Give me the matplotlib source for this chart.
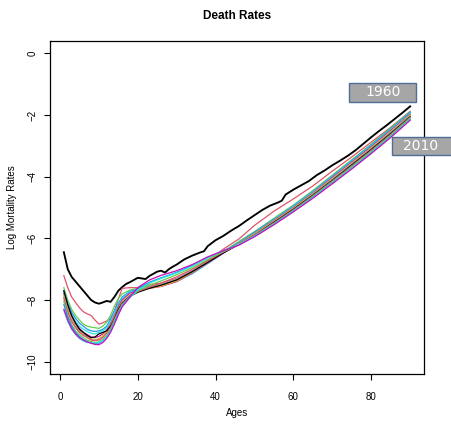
import matplotlib
matplotlib.use("Agg")
import matplotlib.pyplot as plt
from matplotlib.patches import Rectangle

# ---------------- data ----------------
title = "Death Rates"
x_label = "Ages"
y_label = "Log Mortality Rates"
x_ticks = [0, 20, 40, 60, 80]
y_ticks = [0, -2, -4, -6, -8, -10]
label_first = "1960"
label_last = "2010"

ages_1960 = [1, 2, 3, 4, 5, 6, 7, 8, 9, 10, 11, 12, 13, 14, 15, 16, 17, 18, 19, 20,
             21, 22, 23, 24, 25, 26, 27, 28, 29, 30, 32, 34, 36, 37, 38, 40, 42, 44,
             46, 48, 50, 52, 54, 56, 57, 58, 60, 62, 64, 66, 68, 70, 72, 74, 76, 78,
             80, 82, 84, 86, 88, 90]
rates_1960 = [-6.45, -7.0, -7.25, -7.4, -7.55, -7.7, -7.85, -8.0, -8.08, -8.12, -8.08,
              -8.03, -8.06, -7.9, -7.7, -7.58, -7.48, -7.42, -7.35, -7.28, -7.30, -7.32,
              -7.22, -7.15, -7.08, -7.05, -7.11, -7.0, -6.92, -6.85, -6.68, -6.56, -6.46,
              -6.42, -6.25, -6.06, -5.92, -5.75, -5.6, -5.42, -5.25, -5.08, -4.94, -4.84,
              -4.78, -4.58, -4.42, -4.28, -4.14, -3.95, -3.8, -3.63, -3.48, -3.32, -3.14,
              -2.93, -2.72, -2.52, -2.33, -2.13, -1.93, -1.72]

ages = [1, 2, 3, 4, 5, 6, 7, 8, 9, 10, 11, 12, 13, 14, 15, 16, 18, 20, 23, 26, 30, 34,
        38, 42, 46, 50, 55, 60, 65, 70, 75, 80, 85, 90]

rates_1961 = [-7.21, -7.6, -7.9, -8.08, -8.25, -8.38, -8.45, -8.5, -8.65, -8.78, -8.74,
              -8.68, -8.6, -8.35, -7.97, -7.62, -7.6, -7.6, -7.5, -7.45, -7.3, -7.05,
              -6.72, -6.35, -6.02, -5.58, -5.12, -4.72, -4.3, -3.82, -3.36, -2.88, -2.4, -1.88]
rates_s1 = [-7.6, -8.0, -8.3, -8.5, -8.65, -8.78, -8.85, -8.88, -8.9, -8.92, -8.85, -8.72,
            -8.5, -8.2, -7.95, -7.8, -7.68, -7.62, -7.55, -7.5, -7.35, -7.1, -6.78, -6.42,
            -6.1, -5.78, -5.35, -4.92, -4.45, -3.95, -3.45, -2.95, -2.42, -1.9]
rates_s2 = [-7.7, -8.1, -8.4, -8.6, -8.75, -8.85, -8.95, -9.0, -9.02, -9.0, -8.95, -8.85,
            -8.62, -8.35, -8.1, -7.9, -7.72, -7.65, -7.58, -7.52, -7.38, -7.12, -6.8, -6.45,
            -6.13, -5.8, -5.38, -4.95, -4.48, -3.98, -3.48, -2.97, -2.45, -1.92]
rates_s3 = [-7.75, -8.2, -8.5, -8.7, -8.85, -8.95, -9.02, -9.08, -9.1, -9.05, -9.0, -8.9,
            -8.7, -8.4, -8.15, -7.95, -7.75, -7.68, -7.6, -7.55, -7.4, -7.15, -6.82, -6.48,
            -6.15, -5.83, -5.4, -4.97, -4.5, -4.0, -3.5, -3.0, -2.47, -1.95]
rates_s4 = [-7.8, -8.25, -8.55, -8.75, -8.92, -9.05, -9.12, -9.2, -9.22, -9.18, -9.1, -8.98,
            -8.78, -8.5, -8.22, -8.0, -7.78, -7.7, -7.62, -7.56, -7.4, -7.12, -6.8, -6.48,
            -6.16, -5.85, -5.42, -5.0, -4.53, -4.03, -3.53, -3.03, -2.5, -1.98]
rates_s5 = [-7.85, -8.3, -8.62, -8.82, -9.0, -9.1, -9.18, -9.25, -9.28, -9.25, -9.15, -9.02,
            -8.82, -8.55, -8.28, -8.05, -7.82, -7.72, -7.62, -7.55, -7.38, -7.1, -6.78, -6.46,
            -6.17, -5.86, -5.44, -5.02, -4.55, -4.06, -3.56, -3.06, -2.53, -2.0]
rates_s6 = [-7.9, -8.35, -8.65, -8.85, -9.02, -9.12, -9.2, -9.28, -9.3, -9.28, -9.2, -9.05,
            -8.85, -8.58, -8.3, -8.08, -7.85, -7.72, -7.6, -7.5, -7.32, -7.05, -6.75, -6.45,
            -6.18, -5.88, -5.46, -5.04, -4.57, -4.08, -3.58, -3.08, -2.55, -2.02]
rates_s7 = [-7.7, -8.15, -8.5, -8.75, -8.95, -9.05, -9.15, -9.22, -9.2, -9.1, -9.05, -9.0,
            -8.85, -8.6, -8.3, -8.1, -7.88, -7.75, -7.62, -7.52, -7.35, -7.08, -6.78, -6.47,
            -6.2, -5.9, -5.48, -5.06, -4.6, -4.12, -3.62, -3.12, -2.6, -2.06]
rates_s8 = [-7.95, -8.4, -8.7, -8.9, -9.05, -9.15, -9.22, -9.3, -9.32, -9.3, -9.22, -9.08,
            -8.9, -8.62, -8.35, -8.12, -7.88, -7.72, -7.58, -7.45, -7.25, -7.0, -6.72, -6.44,
            -6.2, -5.9, -5.5, -5.08, -4.62, -4.14, -3.65, -3.15, -2.63, -2.08]
rates_s9 = [-8.05, -8.5, -8.8, -9.0, -9.12, -9.22, -9.3, -9.35, -9.38, -9.36, -9.28, -9.15,
            -8.95, -8.68, -8.4, -8.15, -7.9, -7.7, -7.52, -7.38, -7.18, -6.95, -6.68, -6.43,
            -6.2, -5.92, -5.52, -5.1, -4.64, -4.17, -3.68, -3.18, -2.66, -2.1]
rates_s10 = [-8.15, -8.55, -8.85, -9.05, -9.18, -9.28, -9.35, -9.4, -9.42, -9.4, -9.32, -9.2,
             -9.0, -8.72, -8.42, -8.18, -7.88, -7.62, -7.42, -7.28, -7.1, -6.88, -6.62, -6.4,
             -6.2, -5.93, -5.54, -5.12, -4.67, -4.2, -3.72, -3.22, -2.7, -2.14]
rates_s11 = [-8.35, -8.7, -8.95, -9.12, -9.25, -9.33, -9.38, -9.38, -9.4, -9.38, -9.32, -9.2,
             -9.02, -8.75, -8.45, -8.2, -7.92, -7.68, -7.45, -7.3, -7.12, -6.9, -6.63, -6.4,
             -6.2, -5.93, -5.54, -5.12, -4.68, -4.21, -3.73, -3.23, -2.71, -2.15]
rates_2010 = [-8.3, -8.65, -8.92, -9.1, -9.22, -9.3, -9.36, -9.4, -9.44, -9.45, -9.38, -9.25,
              -9.05, -8.78, -8.48, -8.22, -7.9, -7.6, -7.35, -7.2, -7.05, -6.85, -6.6, -6.4,
              -6.22, -5.95, -5.56, -5.14, -4.7, -4.23, -3.75, -3.25, -2.73, -2.17]

bundle = [rates_1961, rates_s1, rates_s2, rates_s3, rates_s4, rates_s5, rates_s6,
          rates_s7, rates_s8, rates_s9, rates_s10, rates_s11, rates_2010]

# R 4.x default palette (style)
palette = ["black", "#DF536B", "#61D04F", "#2297E6", "#28E2E5", "#CD0BBC", "#F5C710", "#9E9E9E"]

# ---------------- figure ----------------
W, H = 451, 425
fig = plt.figure(figsize=(W / 100, H / 100), dpi=100)
plt.rcParams["font.family"] = ["Liberation Sans", "DejaVu Sans"]

ax_l, ax_r, ax_t, ax_b = 50, 424, 41, 374
ax = fig.add_axes([ax_l / W, 1 - ax_b / H, (ax_r - ax_l) / W, (ax_b - ax_t) / H])

ax.plot(ages_1960, rates_1960, color=palette[0], lw=1.35, zorder=3)
for i, series in enumerate(bundle):
    ax.plot(ages, series, color=palette[(i + 1) % len(palette)], lw=0.9, zorder=3)

ax.set_xlim(1 - 0.04 * 89, 90 + 0.04 * 89)
ax.set_ylim(-10.4, 0.4)
ax.set_xticks(x_ticks)
ax.set_yticks(y_ticks)
ax.set_xticklabels([str(v) for v in x_ticks])
ax.set_yticklabels([str(v).replace("-", "\u2212") for v in y_ticks], rotation=90, va="center")
ax.tick_params(axis="x", length=4, width=0.8, pad=9, labelsize=7)
ax.tick_params(axis="y", length=4, width=0.8, pad=5, labelsize=7)
for s in ax.spines.values():
    s.set_linewidth(0.9)

fig.text(237 / W, 1 - 413 / H, x_label, ha="center", va="center", fontsize=7)
fig.text(12 / W, 1 - 207 / H, y_label, ha="center", va="center", fontsize=7, rotation=90)
fig.text(237 / W, 1 - 16 / H, title, ha="center", va="center", fontsize=8.5, fontweight="bold")

# year label boxes
def year_box(x0, y0, x1, y1, text, tx):
    fig.patches.append(Rectangle((x0 / W, 1 - y1 / H), (x1 - x0) / W, (y1 - y0) / H,
                                 transform=fig.transFigure, facecolor="#A6A6A6",
                                 edgecolor="#4E6E96", lw=1.0, zorder=5))
    fig.text(tx / W, 1 - (y0 + y1) / 2 / H, text, ha="center", va="center",
             color="white", fontsize=10, family="DejaVu Sans", zorder=6)

year_box(349, 83, 416, 102, label_first, 383)
year_box(392, 137, 460, 155, label_last, 421)

fig.savefig("out.png", dpi=100)
